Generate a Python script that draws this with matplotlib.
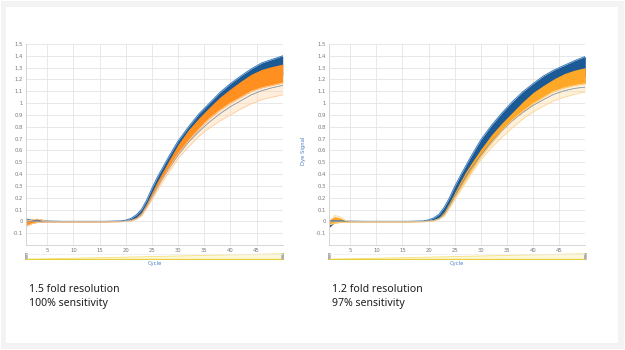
import matplotlib
matplotlib.use('Agg')
import matplotlib.pyplot as plt
from matplotlib.patches import Rectangle, Polygon, FancyBboxPatch

CYCLES = [1, 2, 3, 4, 5, 8, 12, 16, 19, 20, 21, 22, 23, 24, 25, 26, 27, 28,
          30, 32, 34, 36, 38, 40, 42, 44, 46, 48, 50]

# Left panel (1.5 fold)
L_BLUE_HI = [0.02, 0.01, 0.01, 0.005, 0.003, 0.0, 0.0, 0.0, 0.004, 0.01, 0.025, 0.055, 0.10, 0.18, 0.28,
             0.37, 0.45, 0.53, 0.68, 0.80, 0.91, 1.00, 1.09, 1.165, 1.23, 1.29, 1.34, 1.37, 1.40]
L_BLUE_LO = [-0.03, -0.01, -0.005, -0.003, -0.003, -0.003, -0.003, -0.003, 0.0, 0.004, 0.012, 0.03, 0.07, 0.14, 0.23,
             0.31, 0.39, 0.46, 0.60, 0.71, 0.81, 0.90, 0.98, 1.04, 1.10, 1.15, 1.19, 1.21, 1.23]
L_ORANGE_HI = [0.015, 0.02, 0.025, 0.02, 0.008, 0.0, 0.0, 0.0, 0.002, 0.006, 0.015, 0.035, 0.078, 0.155, 0.245,
               0.335, 0.415, 0.495, 0.65, 0.775, 0.875, 0.965, 1.05, 1.12, 1.185, 1.245, 1.285, 1.31, 1.33]
L_ORANGE_LO = [-0.04, -0.02, -0.01, -0.005, -0.005, -0.005, -0.005, -0.005, -0.003, 0.0, 0.005, 0.02, 0.05, 0.12, 0.20,
               0.28, 0.36, 0.43, 0.57, 0.68, 0.78, 0.87, 0.94, 1.00, 1.05, 1.10, 1.13, 1.15, 1.17]
L_FAINT = [0.0, 0.01, 0.02, 0.01, 0.0, 0.0, 0.0, 0.0, 0.0, 0.0, 0.004, 0.017, 0.045, 0.11, 0.18,
           0.26, 0.33, 0.40, 0.53, 0.63, 0.72, 0.79, 0.85, 0.90, 0.95, 0.995, 1.03, 1.05, 1.07]
L_GRAY = [0.0, 0.0, 0.0, 0.0, 0.0, 0.0, 0.0, 0.0, 0.0, 0.002, 0.008, 0.022, 0.055, 0.125, 0.205,
          0.285, 0.36, 0.43, 0.56, 0.67, 0.76, 0.84, 0.91, 0.97, 1.02, 1.07, 1.105, 1.13, 1.15]

# Right panel (1.2 fold)
R_BLUE_HI = [0.01, 0.005, 0.005, 0.003, 0.002, 0.0, 0.0, 0.0, 0.004, 0.012, 0.03, 0.06, 0.12, 0.20, 0.295,
             0.38, 0.46, 0.54, 0.69, 0.81, 0.915, 1.01, 1.095, 1.165, 1.23, 1.28, 1.32, 1.36, 1.395]
R_BLUE_LO = [-0.05, -0.01, -0.005, -0.003, -0.003, -0.003, -0.003, -0.003, 0.0, 0.004, 0.012, 0.03, 0.07, 0.14, 0.22,
             0.30, 0.38, 0.45, 0.58, 0.70, 0.80, 0.89, 0.97, 1.03, 1.09, 1.14, 1.18, 1.20, 1.22]
R_ORANGE_HI = [0.01, 0.04, 0.03, 0.01, 0.005, 0.0, 0.0, 0.0, 0.002, 0.006, 0.015, 0.035, 0.082, 0.16, 0.245,
               0.33, 0.41, 0.48, 0.61, 0.73, 0.83, 0.92, 1.01, 1.09, 1.15, 1.205, 1.25, 1.28, 1.30]
R_ORANGE_LO = [-0.03, -0.015, -0.01, -0.008, -0.006, -0.005, -0.005, -0.005, -0.003, 0.0, 0.005, 0.02, 0.05, 0.12, 0.195,
               0.27, 0.34, 0.41, 0.545, 0.66, 0.765, 0.855, 0.93, 0.995, 1.05, 1.10, 1.13, 1.15, 1.165]
R_FAINT = [0.0, 0.05, 0.04, 0.01, 0.0, 0.0, 0.0, 0.0, 0.0, 0.0, 0.005, 0.018, 0.045, 0.11, 0.18,
           0.25, 0.32, 0.39, 0.52, 0.62, 0.71, 0.79, 0.865, 0.925, 0.975, 1.02, 1.05, 1.075, 1.095]
R_GRAY = [0.0, 0.0, 0.0, 0.0, 0.0, 0.0, 0.0, 0.0, 0.0, 0.002, 0.008, 0.022, 0.055, 0.125, 0.21,
          0.29, 0.37, 0.44, 0.56, 0.67, 0.765, 0.85, 0.92, 0.98, 1.03, 1.075, 1.105, 1.125, 1.135]

X_TICKS = [5, 10, 15, 20, 25, 30, 35, 40, 45]
Y_TICKS = [-0.1, 0, 0.1, 0.2, 0.3, 0.4, 0.5, 0.6, 0.7, 0.8, 0.9, 1, 1.1, 1.2, 1.3, 1.4, 1.5]

CAPTIONS = [["1.5 fold resolution", "100% sensitivity"],
            ["1.2 fold resolution", "97% sensitivity"]]

BLUE = '#1b5a94'
ORANGES = ['#ff901f', '#ffa726']
FAINTS = ['#ffcf9c', '#fdd99a']

W, H = 625, 350
fig = plt.figure(figsize=(W / 100, H / 100), dpi=100)
fig.patch.set_facecolor('white')

# light grey frame around the card
fig.patches.append(Rectangle((1 / W, 1 / H), 623 / W, 348 / H, transform=fig.transFigure,
                             facecolor='#f3f3f3', edgecolor='none', zorder=-10))
fig.patches.append(Rectangle((6 / W, 7 / H), 612 / W, 336 / H, transform=fig.transFigure,
                             facecolor='white', edgecolor='none', zorder=-9))


def draw_panel(x_left, x_right, blue_hi, blue_lo, or_hi, or_lo, faint, gray, orange, faint_col, caption,
               ylabel=False):
    top, bottom = 44, 245
    ax = fig.add_axes([x_left / W, (H - bottom) / H, (x_right - x_left) / W, (bottom - top) / H])
    ax.set_facecolor('none')
    ax.set_xlim(1, 50)
    ax.set_ylim(-0.2, 1.5)
    ax.set_xticks(X_TICKS)
    ax.set_yticks(Y_TICKS)
    ax.set_xticklabels([str(v) for v in X_TICKS])
    ax.set_yticklabels([f"{v:g}" for v in Y_TICKS])
    ax.tick_params(length=0, labelsize=3.8, colors='#777777', pad=2.5)
    ax.grid(True, color='#e4e4e4', lw=0.6)
    ax.set_axisbelow(True)
    for s in ['top', 'right']:
        ax.spines[s].set_visible(False)
    for s in ['left', 'bottom']:
        ax.spines[s].set_color('#cfcfcf')
        ax.spines[s].set_linewidth(0.6)

    # scattered pale curves below the main band
    ax.fill_between(CYCLES, faint, or_lo, color=faint_col, lw=0, alpha=0.35)
    ax.fill_between(CYCLES, blue_lo, blue_hi, color=BLUE, lw=0)
    ax.plot(CYCLES, blue_hi, color='#3a7bbd', lw=0.7)
    ax.plot(CYCLES, gray, color='#8a96a3', lw=0.5)
    ax.fill_between(CYCLES, or_lo, or_hi, color=orange, lw=0)
    ax.plot(CYCLES, or_lo, color=faint_col, lw=0.6)
    ax.plot(CYCLES, faint, color=faint_col, lw=0.6)
    ax.plot(CYCLES, gray, color='#8a96a3', lw=0.4, alpha=0.6)

    if ylabel:
        fig.text(304 / W, (H - 151) / H, 'Dye Signal', rotation=90, ha='center', va='center',
                 fontsize=3.8, color='#4a80c0')

    # zoom slider under the plot
    sx = fig.add_axes([x_left / W, (H - 260) / H, (x_right - x_left) / W, 7 / H])
    sx.set_xlim(0, 1)
    sx.set_ylim(0, 1)
    sx.axis('off')
    sx.add_patch(Polygon([(0, 0.1), (1, 0.1), (1, 0.9)], closed=True, facecolor='#fcf7d8',
                         edgecolor='none'))
    sx.plot([0, 1], [0.1, 0.9], color='#f4e27a', lw=0.6)
    sx.plot([0, 1], [0.9, 0.9], color='#ececec', lw=0.5)
    sx.plot([0, 1], [0.1, 0.1], color='#e6cf3a', lw=0.9)
    sx.plot([0, 1], [0.0, 0.0], color='#a8a070', lw=0.4)
    for cx in (0, 1):
        sx.add_patch(FancyBboxPatch((cx - 0.004, 0.05), 0.008, 0.9, boxstyle='round,pad=0,rounding_size=0.003',
                                    facecolor='#b0b0b0', edgecolor='#909090', lw=0.3, clip_on=False))
    fig.text((x_left + x_right) / 2 / W, (H - 263.5) / H, 'Cycle', ha='center', va='center',
             fontsize=3.8, color='#4a80c0')

    for i, line in enumerate(caption):
        fig.text((x_left + 2.5) / W, (H - (289 + 14.5 * i)) / H, line, ha='left', va='center',
                 fontsize=7.6, color='#1e1e1e', family='Noto Sans')


draw_panel(26.3, 282.7, L_BLUE_HI, L_BLUE_LO, L_ORANGE_HI, L_ORANGE_LO, L_FAINT, L_GRAY,
           ORANGES[0], FAINTS[0], CAPTIONS[0])
draw_panel(329.3, 585.3, R_BLUE_HI, R_BLUE_LO, R_ORANGE_HI, R_ORANGE_LO, R_FAINT, R_GRAY,
           ORANGES[1], FAINTS[1], CAPTIONS[1], ylabel=True)

fig.savefig('out.png', dpi=100)
